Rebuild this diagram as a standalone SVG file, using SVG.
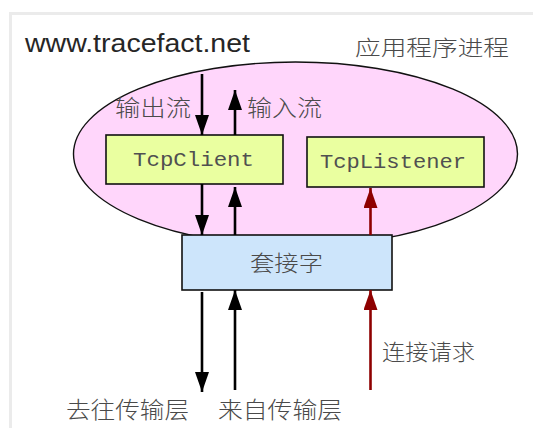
<svg xmlns="http://www.w3.org/2000/svg" width="533" height="428" viewBox="0 0 533 428">
  <style>
    .cjk { font-family: "Noto Sans CJK SC", sans-serif; font-weight: 300; fill: #4a4a4a; }
    .mono { font-family: "Liberation Mono", monospace; fill: #505050; }
    .box { stroke: #111; stroke-width: 1.6; }
    .flow { fill: none; stroke: #000; stroke-width: 2.6; marker-end: url(#head); }
    .req { fill: none; stroke: #8e0000; stroke-width: 2.6; marker-end: url(#head-red); }
  </style>
  <defs>
    <marker id="head" markerUnits="userSpaceOnUse" markerWidth="20" markerHeight="14" refX="20" refY="7" orient="auto">
      <path d="M0,0 L20,7 L0,14 z" fill="#000"/>
    </marker>
    <marker id="head-red" markerUnits="userSpaceOnUse" markerWidth="20" markerHeight="14" refX="20" refY="7" orient="auto">
      <path d="M0,0 L20,7 L0,14 z" fill="#8e0000"/>
    </marker>
  </defs>

  <!-- page background and frame edge -->
  <rect x="0" y="0" width="533" height="428" fill="#fff"/>
  <rect x="10.5" y="13.5" width="540" height="430" fill="#fff" stroke="#ebebeb" stroke-width="3"/>

  <!-- header texts -->
  <text x="25" y="52" font-family="Liberation Sans, Arial, sans-serif" font-size="26" fill="#262626" textLength="225" lengthAdjust="spacingAndGlyphs">www.tracefact.net</text>

  <!-- application process -->
  <g id="process">
    <ellipse cx="295.5" cy="154" rx="222" ry="92" fill="#ffd6fb" stroke="#111" stroke-width="1.4"/>
    <text class="cjk" x="355" y="55" font-size="21" textLength="154" lengthAdjust="spacingAndGlyphs">应用程序进程</text>
  </g>

  <g id="tcpclient">
    <rect class="box" x="106" y="135" width="177" height="49" fill="#eaffa0"/>
    <text class="mono" x="133" y="166" font-size="20" textLength="121" lengthAdjust="spacingAndGlyphs">TcpClient</text>
  </g>

  <g id="tcplistener">
    <rect class="box" x="307" y="137" width="177" height="50" fill="#eaffa0"/>
    <text class="mono" x="320" y="168" font-size="20" textLength="146" lengthAdjust="spacingAndGlyphs">TcpListener</text>
  </g>

  <g id="socket">
    <rect class="box" x="182" y="235" width="210" height="55" fill="#cde5fb"/>
    <text class="cjk" x="250" y="271" font-size="22" textLength="73" lengthAdjust="spacingAndGlyphs">套接字</text>
  </g>

  <g id="connectors">
    <line class="flow" x1="202" y1="74" x2="202" y2="135"/>
    <line class="flow" x1="235" y1="135" x2="235" y2="90"/>
    <line class="flow" x1="202" y1="184" x2="202" y2="235"/>
    <line class="flow" x1="235" y1="235" x2="235" y2="187"/>
    <line class="req" x1="370.5" y1="235" x2="370.5" y2="188"/>
    <line class="flow" x1="202" y1="292" x2="202" y2="392"/>
    <line class="flow" x1="235" y1="390" x2="235" y2="290"/>
    <line class="req" x1="370.5" y1="390" x2="370.5" y2="290"/>
  </g>

  <g id="labels">
    <text class="cjk" x="115" y="116" font-size="23" textLength="76" lengthAdjust="spacingAndGlyphs">输出流</text>
    <text class="cjk" x="247" y="116" font-size="23" textLength="75" lengthAdjust="spacingAndGlyphs">输入流</text>
    <text class="cjk" x="382" y="360" font-size="22" textLength="93" lengthAdjust="spacingAndGlyphs">连接请求</text>
    <text class="cjk" x="66" y="418" font-size="23" textLength="123" lengthAdjust="spacingAndGlyphs">去往传输层</text>
    <text class="cjk" x="218" y="418" font-size="23" textLength="124" lengthAdjust="spacingAndGlyphs">来自传输层</text>
  </g>
</svg>
